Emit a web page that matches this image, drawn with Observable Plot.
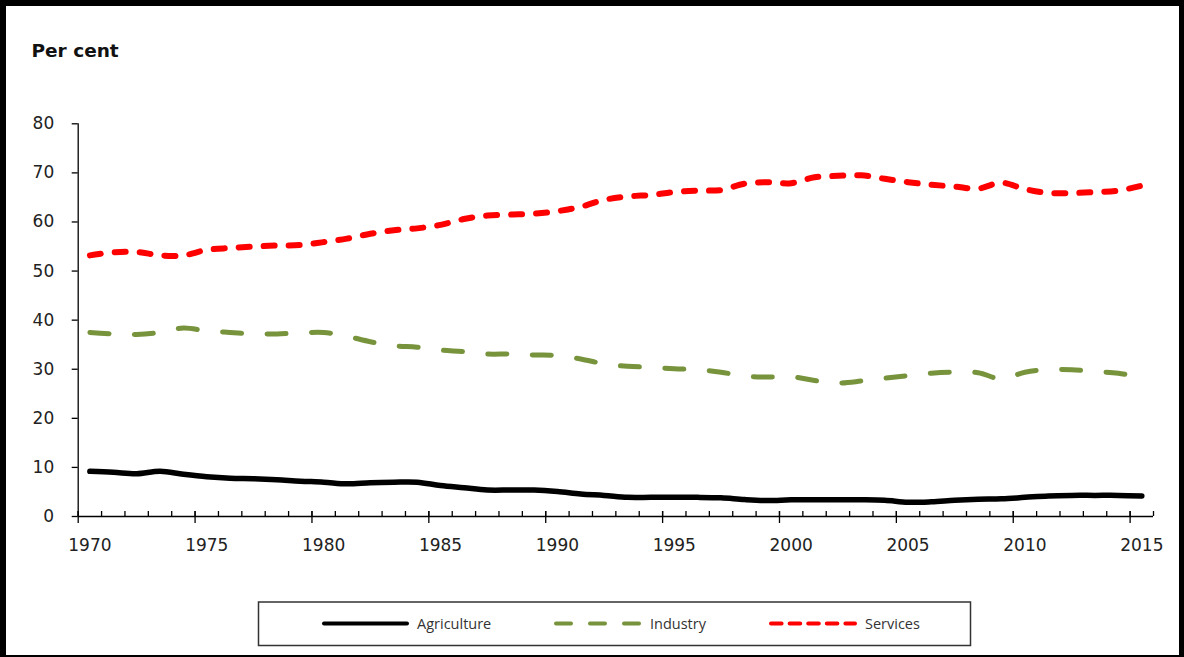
<!DOCTYPE html>
<html>
<head>
<meta charset="utf-8">
<script src="https://cdn.jsdelivr.net/npm/d3@7"></script>
<script src="https://cdn.jsdelivr.net/npm/@observablehq/plot@0.6"></script>
<style>
  html, body { margin: 0; padding: 0; background: #fff; }
  #wrap { position: relative; width: 1184px; height: 657px; overflow: hidden; background: #fff; }
  #frame { position: absolute; left: 0; top: 0; width: 1184px; height: 657px; box-sizing: border-box;
           border-style: solid; border-color: #000; border-width: 6px 5px 2px 6px; pointer-events: none; }
  #chart { position: absolute; left: 0; top: 0; }
  #overlay { position: absolute; left: 0; top: 0; pointer-events: none; }
</style>
</head>
<body>
<div id="wrap">
  <div id="chart"></div>
  <svg id="overlay" width="1184" height="657"></svg>
  <div id="frame"></div>
</div>
<script>
// ---- data ----
const years = d3.range(1970, 2016);
const agriculture = [9.2, 9.0, 8.7, 9.2, 8.6, 8.1, 7.8, 7.7, 7.5, 7.2,
                     7.0, 6.65, 6.9, 7.0, 7.0, 6.3, 5.85, 5.4, 5.4, 5.4,
                     5.1, 4.6, 4.3, 3.9, 3.9, 3.9, 3.9, 3.8, 3.45, 3.25,
                     3.4, 3.4, 3.4, 3.4, 3.3, 2.9, 3.0, 3.3, 3.5, 3.6,
                     3.9, 4.2, 4.3, 4.3, 4.3, 4.2];
const industry = [37.5, 37.2, 37.1, 37.5, 38.4, 37.8, 37.5, 37.2, 37.2, 37.4,
                  37.5, 36.7, 35.6, 34.8, 34.5, 33.9, 33.6, 33.1, 33.1, 32.9,
                  32.8, 32.1, 31.1, 30.6, 30.4, 30.1, 29.9, 29.4, 28.6, 28.4,
                  28.5, 27.7, 27.2, 27.6, 28.2, 28.7, 29.2, 29.4, 29.3, 28.0,
                  29.4, 29.9, 29.9, 29.5, 29.2, 28.2];
const services = [53.2, 53.8, 53.9, 53.2, 53.2, 54.3, 54.7, 55.0, 55.2, 55.3,
                  55.9, 56.6, 57.6, 58.3, 58.7, 59.4, 60.6, 61.3, 61.5, 61.7,
                  62.2, 63.1, 64.5, 65.2, 65.5, 66.1, 66.4, 66.5, 67.8, 68.1,
                  67.9, 69.1, 69.4, 69.5, 68.8, 68.1, 67.6, 67.2, 66.8, 68.0,
                  66.7, 65.9, 65.9, 66.1, 66.4, 67.4];
const seriesNames = ["Agriculture", "Industry", "Services"];
const yTicks = [0, 10, 20, 30, 40, 50, 60, 70, 80];
const xLabelYears = [1970, 1975, 1980, 1985, 1990, 1995, 2000, 2005, 2010, 2015];
const titleText = "Per cent";

// ---- styles ----
const styles = {
  Agriculture: {stroke: "#000000", strokeWidth: 5.5, dash: null, legendDash: null},
  Industry: {stroke: "#77933C", strokeWidth: 5, dash: "19,25.5", legendDash: "15,19"},
  Services: {stroke: "#FF0000", strokeWidth: 6, dash: "11,14", legendDash: "10.6,8"}
};

const valuesBySeries = {Agriculture: agriculture, Industry: industry, Services: services};

// ---- layout ----
const W = 1184, H = 560;
const mL = 77.7, mR = 31, mT = 123.3, mB = 44;
const innerH = H - mT - mB;
const boundaries = d3.range(years[0] - 0.5, years[years.length - 1] + 1, 1);
const majorBoundaries = boundaries.filter((b, i) => i % 5 === 0 && i < boundaries.length - 1);

const lineMarks = seriesNames.map(name => {
  const s = styles[name];
  const data = years.map((yr, i) => ({year: yr, value: valuesBySeries[name][i]}));
  return Plot.line(data, {
    x: "year", y: "value", curve: "catmull-rom",
    stroke: s.stroke, strokeWidth: s.strokeWidth,
    strokeDasharray: s.dash, strokeLinecap: "round", strokeLinejoin: "round"
  });
});

const chart = Plot.plot({
  width: W, height: H,
  marginLeft: mL, marginRight: mR, marginTop: mT, marginBottom: mB,
  style: {fontFamily: "DejaVu Sans", fontSize: "17px", color: "#222", background: "transparent", overflow: "visible"},
  x: {domain: [boundaries[0], boundaries[boundaries.length - 1]]},
  y: {domain: [0, 80]},
  marks: [
    Plot.axisY({ticks: yTicks, tickSize: 6, tickPadding: 18, label: null, stroke: "#000", strokeWidth: 1.3}),
    Plot.axisX({ticks: xLabelYears, tickSize: 0, tickPadding: 22, tickFormat: d => String(d), label: null}),
    Plot.ruleX(boundaries, {insetTop: innerH - 5, stroke: "#000", strokeWidth: 1.3}),
    Plot.ruleX(majorBoundaries, {insetTop: innerH - 5, insetBottom: -7, stroke: "#000", strokeWidth: 1.3}),
    Plot.ruleX([boundaries[0]], {stroke: "#000", strokeWidth: 1.3}),
    Plot.ruleY([0], {stroke: "#000", strokeWidth: 1.3}),
    ...lineMarks
  ]
});
document.getElementById("chart").appendChild(chart);

// ---- title & legend overlay ----
const ov = d3.select("#overlay");
ov.append("text")
  .attr("x", 31.5).attr("y", 57)
  .attr("font-family", "DejaVu Sans").attr("font-weight", "bold").attr("font-size", 18.5)
  .attr("fill", "#111")
  .text(titleText);

ov.append("rect")
  .attr("x", 258.5).attr("y", 602).attr("width", 712).attr("height", 43.5)
  .attr("fill", "#fff").attr("stroke", "#333").attr("stroke-width", 1.5);

const legendItems = [
  {name: "Agriculture", x1: 322, x2: 409, tx: 417},
  {name: "Industry", x1: 554, x2: 641, tx: 650},
  {name: "Services", x1: 769, x2: 857, tx: 865}
];
legendItems.forEach(it => {
  const s = styles[it.name];
  ov.append("line")
    .attr("x1", it.x1 + 2).attr("x2", it.x2 - 2).attr("y1", 623.5).attr("y2", 623.5)
    .attr("stroke", s.stroke).attr("stroke-width", 4).attr("stroke-linecap", "round")
    .attr("stroke-dasharray", s.legendDash);
  ov.append("text")
    .attr("x", it.tx).attr("y", 629)
    .attr("font-family", "Open Sans").attr("font-size", 14.5).attr("fill", "#333")
    .text(it.name);
});
</script>
</body>
</html>
